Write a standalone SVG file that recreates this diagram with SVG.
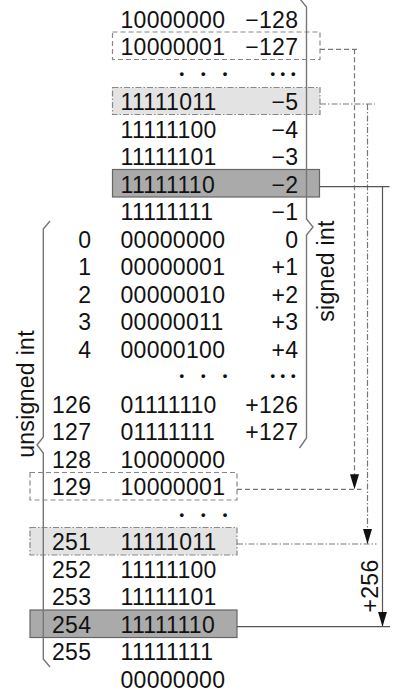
<svg xmlns="http://www.w3.org/2000/svg" width="396" height="694" viewBox="0 0 396 694">
<defs>
<style>
text{font-family:"Liberation Sans",Arial,Helvetica,sans-serif;font-size:23px;fill:#111;letter-spacing:0.3px}
.s{text-anchor:end}
.u{text-anchor:end}
.dot{font-weight:bold;font-size:13px;text-anchor:middle;letter-spacing:0}
.box-dash{fill:none;stroke:#888;stroke-width:1.2;stroke-dasharray:5 3}
.box-dd{fill:#e3e3e3;stroke:#888;stroke-width:1.2;stroke-dasharray:6 2 1.5 2}
.box-solid{fill:#aaaaaa;stroke:#666;stroke-width:1.2}
.brace{fill:none;stroke:#777;stroke-width:1.4;stroke-linejoin:miter}
.c-dash{fill:none;stroke:#777;stroke-width:1.2;stroke-dasharray:5 3}
.c-dd{fill:none;stroke:#777;stroke-width:1.2;stroke-dasharray:6 2 1.5 2}
.c-solid{fill:none;stroke:#555;stroke-width:1.2}
</style>
<marker id="arrow" markerUnits="userSpaceOnUse" markerWidth="9" markerHeight="15" viewBox="0 0 9 15" refX="4.5" refY="15" orient="0">
<path d="M0,0 L9,0 L4.5,15 Z" fill="#111"/>
</marker>
</defs>

<!-- highlight boxes -->
<g id="boxes">
<rect id="box-m127" class="box-dash" x="112.5" y="32" width="207.5" height="27.5"/>
<rect id="box-m5" class="box-dd" x="112.5" y="87.5" width="207.5" height="27"/>
<rect id="box-m2" class="box-solid" x="112.5" y="169.5" width="207" height="27.5"/>
<rect id="box-129" class="box-dash" x="30" y="472.5" width="207" height="27.5"/>
<rect id="box-251" class="box-dd" x="30" y="527.5" width="207" height="27.5"/>
<rect id="box-254" class="box-solid" x="30" y="610" width="207" height="27.5"/>
</g>

<!-- braces -->
<g id="signed-brace">
<path class="brace" d="M300,-1 L306.5,7 V219 L313,227 L306.5,235 V438 L299.5,448"/>
<text transform="translate(333.5,271) rotate(-90)" text-anchor="middle">signed int</text>
</g>
<g id="unsigned-brace">
<path class="brace" d="M50,221 L43.3,229 V437 L37,445 L43.3,453 V659 L50,667"/>
<text transform="translate(34,394) rotate(-90)" text-anchor="middle">unsigned int</text>
</g>

<!-- rows -->
<g id="row-0"><text x="120.5" y="27.7">10000000</text><text class="s" x="298.3" y="27.7">−128</text></g>
<g id="row-1"><text x="120.5" y="55.2">10000001</text><text class="s" x="298.3" y="55.2">−127</text></g>
<g id="row-2"><text class="dot" x="181.7 203.3 225" y="78.4">•••</text><text class="dot" x="272.7 282.9 293.3" y="78.4">•••</text></g>
<g id="row-3"><text x="120.5" y="110.2">11111011</text><text class="s" x="298.3" y="110.2">−5</text></g>
<g id="row-4"><text x="120.5" y="137.7">11111100</text><text class="s" x="298.3" y="137.7">−4</text></g>
<g id="row-5"><text x="120.5" y="165.2">11111101</text><text class="s" x="298.3" y="165.2">−3</text></g>
<g id="row-6"><text x="120.5" y="192.7">11111110</text><text class="s" x="298.3" y="192.7">−2</text></g>
<g id="row-7"><text x="120.5" y="220.2">11111111</text><text class="s" x="298.3" y="220.2">−1</text></g>
<g id="row-8"><text class="u" x="91.3" y="247.7">0</text><text x="120.5" y="247.7">00000000</text><text class="s" x="298.3" y="247.7">0</text></g>
<g id="row-9"><text class="u" x="91.3" y="275.2">1</text><text x="120.5" y="275.2">00000001</text><text class="s" x="298.3" y="275.2">+1</text></g>
<g id="row-10"><text class="u" x="91.3" y="302.7">2</text><text x="120.5" y="302.7">00000010</text><text class="s" x="298.3" y="302.7">+2</text></g>
<g id="row-11"><text class="u" x="91.3" y="330.2">3</text><text x="120.5" y="330.2">00000011</text><text class="s" x="298.3" y="330.2">+3</text></g>
<g id="row-12"><text class="u" x="91.3" y="357.7">4</text><text x="120.5" y="357.7">00000100</text><text class="s" x="298.3" y="357.7">+4</text></g>
<g id="row-13"><text class="dot" x="181.7 203.3 225" y="380">•••</text><text class="dot" x="272.7 282.9 293.3" y="380">•••</text></g>
<g id="row-14"><text class="u" x="91.3" y="412.7">126</text><text x="120.5" y="412.7">01111110</text><text class="s" x="298.3" y="412.7">+126</text></g>
<g id="row-15"><text class="u" x="91.3" y="440.2">127</text><text x="120.5" y="440.2">01111111</text><text class="s" x="298.3" y="440.2">+127</text></g>
<g id="row-16"><text class="u" x="91.3" y="467.7">128</text><text x="120.5" y="467.7">10000000</text></g>
<g id="row-17"><text class="u" x="91.3" y="495.2">129</text><text x="120.5" y="495.2">10000001</text></g>
<g id="row-18"><text class="dot" x="181.7 203.3 225" y="519.3">•••</text></g>
<g id="row-19"><text class="u" x="91.3" y="550.2">251</text><text x="120.5" y="550.2">11111011</text></g>
<g id="row-20"><text class="u" x="91.3" y="577.7">252</text><text x="120.5" y="577.7">11111100</text></g>
<g id="row-21"><text class="u" x="91.3" y="605.2">253</text><text x="120.5" y="605.2">11111101</text></g>
<g id="row-22"><text class="u" x="91.3" y="632.7">254</text><text x="120.5" y="632.7">11111110</text></g>
<g id="row-23"><text class="u" x="91.3" y="660.2">255</text><text x="120.5" y="660.2">11111111</text></g>
<g id="row-24"><text x="120.5" y="687.7">00000000</text></g>

<!-- connectors -->
<g id="connectors">
<path class="c-dash" d="M320,49.3 H358"/>
<path class="c-dash" d="M354.5,49.3 V489.3" marker-end="url(#arrow)"/>
<path class="c-dash" d="M237,489.3 H361.5"/>
<path class="c-dd" d="M320,104 H375"/>
<path class="c-dd" d="M367.5,104 V544" marker-end="url(#arrow)"/>
<path class="c-dd" d="M237,544 H376.5"/>
<path class="c-solid" d="M319.5,186.7 H389.5"/>
<path class="c-solid" d="M382.5,186.7 V626.7" marker-end="url(#arrow)"/>
<path class="c-solid" d="M237,626.7 H390"/>
<text transform="translate(377.5,586) rotate(-90)" text-anchor="middle">+256</text>
</g>
</svg>
